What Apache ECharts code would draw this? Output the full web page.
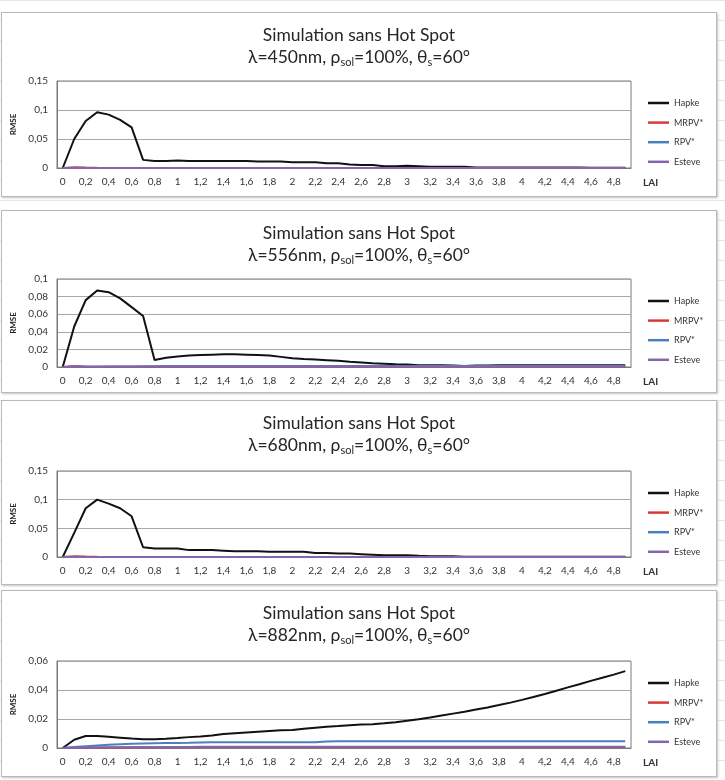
<!DOCTYPE html>
<html>
<head>
<meta charset="utf-8">
<script src="https://cdn.jsdelivr.net/npm/echarts@6/dist/echarts.min.js"></script>
<style>
body{margin:0;background:#fff;width:725px;height:780px;overflow:hidden;
  background-image:linear-gradient(#e6e6e6 1px, transparent 1px);background-size:100% 20px;}
.box{position:absolute;left:1px;width:714px;border:1px solid #b9b9b9;box-shadow:1px 1px 2px #c4c4c4;background:#fff;}
</style>
</head>
<body>
<div id="c450" class="box" style="top:12px;height:183px"></div>
<div id="c556" class="box" style="top:210px;height:181px"></div>
<div id="c680" class="box" style="top:400px;height:183px"></div>
<div id="c882" class="box" style="top:590px;height:185px"></div>
<script>
var lai = ['0','0,1','0,2','0,3','0,4','0,5','0,6','0,7','0,8','0,9',
	'1','1,1','1,2','1,3','1,4','1,5','1,6','1,7','1,8','1,9',
	'2','2,1','2,2','2,3','2,4','2,5','2,6','2,7','2,8','2,9',
	'3','3,1','3,2','3,3','3,4','3,5','3,6','3,7','3,8','3,9',
	'4','4,1','4,2','4,3','4,4','4,5','4,6','4,7','4,8','4,9'];

// 450nm
var hapke450 = [0, 0.050, 0.081, 0.096, 0.092, 0.083, 0.070, 0.014, 0.012, 0.012,
	0.013, 0.012, 0.012, 0.012, 0.012, 0.012, 0.012, 0.011, 0.011, 0.011,
	0.010, 0.010, 0.010, 0.008, 0.008, 0.006, 0.005, 0.005, 0.003, 0.003,
	0.004, 0.003, 0.002, 0.002, 0.002, 0.002, 0.001, 0.001, 0.001, 0.001,
	0.0008, 0.0008, 0.0008, 0.0007, 0.0007, 0.0007, 0.0006, 0.0006, 0.0006, 0.0006];
var mrpv450 = [0, 0.0015, 0.0008, 0.0003, 0.0002, 0.0002, 0.0002, 0.0002, 0.0002, 0.0002,
	0.0002, 0.0002, 0.0002, 0.0002, 0.0002, 0.0002, 0.0002, 0.0002, 0.0002, 0.0002,
	0.0002, 0.0002, 0.0002, 0.0002, 0.0002, 0.0002, 0.0002, 0.0002, 0.0002, 0.0002,
	0.0002, 0.0002, 0.0002, 0.0002, 0.0002, 0.0002, 0.0002, 0.0002, 0.0002, 0.0002,
	0.0002, 0.0002, 0.0002, 0.0002, 0.0002, 0.0002, 0.0002, 0.0002, 0.0002, 0.0002];
var rpv450 = [0, 0.0001, 0.0001, 0.0001, 0.0001, 0.0001, 0.0001, 0.0001, 0.0001, 0.0001,
	0.0001, 0.0001, 0.0001, 0.0001, 0.0001, 0.0001, 0.0001, 0.0001, 0.0001, 0.0001,
	0.0001, 0.0001, 0.0001, 0.0001, 0.0001, 0.0001, 0.0001, 0.0001, 0.0001, 0.0001,
	0.0001, 0.0001, 0.0001, 0.0001, 0.0001, 0.0001, 0.0001, 0.0001, 0.0001, 0.0001,
	0.0001, 0.0001, 0.0001, 0.0001, 0.0001, 0.0001, 0.0001, 0.0001, 0.0001, 0.0001];
var esteve450 = [0, 0, 0, 0, 0, 0, 0, 0, 0, 0,
	0, 0, 0, 0, 0, 0, 0, 0, 0, 0,
	0, 0, 0, 0, 0, 0, 0, 0, 0, 0,
	0, 0, 0, 0, 0, 0, 0, 0, 0, 0,
	0, 0, 0, 0, 0, 0, 0, 0, 0, 0];

// 556nm
var hapke556 = [0, 0.046, 0.076, 0.087, 0.085, 0.078, 0.068, 0.058, 0.008, 0.0105,
	0.012, 0.013, 0.0135, 0.014, 0.0145, 0.0145, 0.014, 0.0135, 0.013, 0.0115,
	0.010, 0.009, 0.0085, 0.0078, 0.007, 0.006, 0.0052, 0.0044, 0.0038, 0.003,
	0.0028, 0.002, 0.002, 0.002, 0.0018, 0.001, 0.0018, 0.0018, 0.002, 0.002,
	0.002, 0.002, 0.002, 0.002, 0.002, 0.002, 0.002, 0.002, 0.002, 0.002];
var mrpv556 = [0, 0.001, 0.0005, 0.0003, 0.0002, 0.0002, 0.0002, 0.0002, 0.0002, 0.0002,
	0.0002, 0.0002, 0.0002, 0.0002, 0.0002, 0.0002, 0.0002, 0.0002, 0.0002, 0.0002,
	0.0002, 0.0002, 0.0002, 0.0002, 0.0002, 0.0002, 0.0002, 0.0002, 0.0002, 0.0002,
	0.0002, 0.0002, 0.0002, 0.0002, 0.0002, 0.0002, 0.0002, 0.0002, 0.0002, 0.0002,
	0.0002, 0.0002, 0.0002, 0.0002, 0.0002, 0.0002, 0.0002, 0.0002, 0.0002, 0.0002];
var rpv556 = [0, 0.0002, 0.0003, 0.0004, 0.0005, 0.0006, 0.0007, 0.0008, 0.0009, 0.001,
	0.001, 0.001, 0.001, 0.001, 0.001, 0.001, 0.001, 0.001, 0.001, 0.001,
	0.001, 0.001, 0.001, 0.001, 0.001, 0.001, 0.001, 0.001, 0.001, 0.001,
	0.001, 0.001, 0.001, 0.001, 0.001, 0.001, 0.001, 0.001, 0.001, 0.001,
	0.001, 0.001, 0.001, 0.001, 0.001, 0.001, 0.001, 0.001, 0.001, 0.001];
var esteve556 = [0, 0.0002, 0.0003, 0.0004, 0.0004, 0.0004, 0.0004, 0.0004, 0.0004, 0.0004,
	0.0004, 0.0004, 0.0004, 0.0004, 0.0004, 0.0004, 0.0004, 0.0004, 0.0004, 0.0004,
	0.0004, 0.0004, 0.0004, 0.0004, 0.0004, 0.0004, 0.0004, 0.0004, 0.0004, 0.0004,
	0.0004, 0.0004, 0.0004, 0.0004, 0.0004, 0.0004, 0.0004, 0.0004, 0.0004, 0.0004,
	0.0004, 0.0004, 0.0004, 0.0004, 0.0004, 0.0004, 0.0004, 0.0004, 0.0004, 0.0004];

// 680nm
var hapke680 = [0, 0.042, 0.085, 0.100, 0.093, 0.085, 0.071, 0.017, 0.015, 0.015,
	0.015, 0.012, 0.012, 0.012, 0.011, 0.010, 0.010, 0.010, 0.009, 0.009,
	0.009, 0.009, 0.007, 0.007, 0.006, 0.006, 0.005, 0.004, 0.003, 0.003,
	0.003, 0.002, 0.0015, 0.0015, 0.0015, 0.0006, 0.0006, 0.0006, 0.0006, 0.0006,
	0.0005, 0.0005, 0.0005, 0.0005, 0.0005, 0.0005, 0.0005, 0.0005, 0.0005, 0.0005];
var mrpv680 = [0, 0.0015, 0.0008, 0.0003, 0.0002, 0.0002, 0.0002, 0.0002, 0.0002, 0.0002,
	0.0002, 0.0002, 0.0002, 0.0002, 0.0002, 0.0002, 0.0002, 0.0002, 0.0002, 0.0002,
	0.0002, 0.0002, 0.0002, 0.0002, 0.0002, 0.0002, 0.0002, 0.0002, 0.0002, 0.0002,
	0.0002, 0.0002, 0.0002, 0.0002, 0.0002, 0.0002, 0.0002, 0.0002, 0.0002, 0.0002,
	0.0002, 0.0002, 0.0002, 0.0002, 0.0002, 0.0002, 0.0002, 0.0002, 0.0002, 0.0002];
var rpv680 = [0, 0.0001, 0.0001, 0.0001, 0.0001, 0.0001, 0.0001, 0.0001, 0.0001, 0.0001,
	0.0001, 0.0001, 0.0001, 0.0001, 0.0001, 0.0001, 0.0001, 0.0001, 0.0001, 0.0001,
	0.0001, 0.0001, 0.0001, 0.0001, 0.0001, 0.0001, 0.0001, 0.0001, 0.0001, 0.0001,
	0.0001, 0.0001, 0.0001, 0.0001, 0.0001, 0.0001, 0.0001, 0.0001, 0.0001, 0.0001,
	0.0001, 0.0001, 0.0001, 0.0001, 0.0001, 0.0001, 0.0001, 0.0001, 0.0001, 0.0001];
var esteve680 = [0, 0, 0, 0, 0, 0, 0, 0, 0, 0,
	0, 0, 0, 0, 0, 0, 0, 0, 0, 0,
	0, 0, 0, 0, 0, 0, 0, 0, 0, 0,
	0, 0, 0, 0, 0, 0, 0, 0, 0, 0,
	0, 0, 0, 0, 0, 0, 0, 0, 0, 0];

// 882nm
var hapke882 = [0, 0.0057, 0.0083, 0.0082, 0.0077, 0.0071, 0.0065, 0.0060, 0.0060, 0.0064,
	0.0069, 0.0075, 0.0080, 0.0087, 0.0096, 0.0102, 0.0107, 0.0112, 0.0117, 0.0122,
	0.0124, 0.0133, 0.0140, 0.0146, 0.0151, 0.0157, 0.0162, 0.0164, 0.0170, 0.0178,
	0.0188, 0.0198, 0.0210, 0.0224, 0.0237, 0.0250, 0.0265, 0.0280, 0.0296, 0.0313,
	0.0332, 0.0352, 0.0372, 0.0395, 0.0418, 0.0440, 0.0463, 0.0484, 0.0506, 0.0530];
var mrpv882 = [0, 0.0002, 0.0003, 0.0003, 0.0004, 0.0004, 0.0005, 0.0005, 0.0005, 0.0006,
	0.0006, 0.0006, 0.0007, 0.0007, 0.0007, 0.0007, 0.0007, 0.0007, 0.0007, 0.0007,
	0.0007, 0.0007, 0.0007, 0.0007, 0.0007, 0.0007, 0.0007, 0.0007, 0.0007, 0.0007,
	0.0007, 0.0007, 0.0007, 0.0007, 0.0007, 0.0007, 0.0007, 0.0007, 0.0007, 0.0007,
	0.0007, 0.0007, 0.0007, 0.0007, 0.0007, 0.0007, 0.0007, 0.0007, 0.0007, 0.0007];
var rpv882 = [0, 0.0007, 0.0012, 0.0017, 0.0022, 0.0026, 0.0029, 0.0031, 0.0033, 0.0034,
	0.0035, 0.0036, 0.0038, 0.0040, 0.0040, 0.0040, 0.0040, 0.0040, 0.0040, 0.0040,
	0.0040, 0.0040, 0.0040, 0.0044, 0.0046, 0.0046, 0.0046, 0.0046, 0.0046, 0.0046,
	0.0046, 0.0046, 0.0046, 0.0046, 0.0046, 0.0046, 0.0046, 0.0046, 0.0046, 0.0046,
	0.0046, 0.0046, 0.0046, 0.0046, 0.0046, 0.0046, 0.0046, 0.0046, 0.0046, 0.0046];
var esteve882 = [0, 0.0002, 0.0003, 0.0004, 0.0005, 0.0005, 0.0006, 0.0006, 0.0006, 0.0007,
	0.0007, 0.0007, 0.0008, 0.0008, 0.0008, 0.0008, 0.0008, 0.0008, 0.0008, 0.0008,
	0.0008, 0.0008, 0.0008, 0.0008, 0.0008, 0.0008, 0.0008, 0.0008, 0.0008, 0.0008,
	0.0008, 0.0008, 0.0008, 0.0008, 0.0008, 0.0008, 0.0008, 0.0008, 0.0008, 0.0008,
	0.0008, 0.0008, 0.0008, 0.0008, 0.0008, 0.0008, 0.0008, 0.0008, 0.0008, 0.0008];

var names = ['Hapke', 'MRPV*', 'RPV*', 'Esteve'];
var colors = ['#111111', '#d83a3a', '#4a7fc0', '#8466ad'];

function fmt(v) {
	return String(+v.toFixed(3)).replace('.', ',');
}

function makeOption(wl, ymax, step, gridTop, gridHeight, data) {
	var series = [];
	for (var i = 0; i < names.length; i++) {
		series.push({
			name: names[i],
			type: 'line',
			color: colors[i],
			symbol: 'none',
			lineStyle: {width: 2},
			data: data[i]
		});
	}
	return {
		animation: false,
		textStyle: {fontFamily: 'Lato'},
		title: [
			{
				text: 'Simulation sans Hot Spot',
				left: 'center',
				top: 12,
				padding: 0,
				textStyle: {fontFamily: 'Lato', fontSize: 17.5, fontWeight: 'normal', color: '#262626', lineHeight: 20}
			},
			{
				text: '{a|λ=' + wl + 'nm, ρ}{s|sol}{a|=100%, θ}{s|s}{a|=60°}',
				left: 'center',
				top: 33,
				padding: 0,
				textStyle: {
					fontWeight: 'normal',
					rich: {
						a: {fontFamily: 'Lato', fontSize: 17.5, fontWeight: 'normal', color: '#262626', lineHeight: 22},
						s: {fontFamily: 'Lato', fontSize: 11, fontWeight: 'normal', color: '#262626', lineHeight: 12, verticalAlign: 'bottom'}
					}
				}
			}
		],
		legend: {
			orient: 'vertical',
			left: 646,
			top: gridTop + 16,
			padding: 0,
			icon: 'rect',
			itemWidth: 21,
			itemHeight: 2.5,
			itemGap: 7.6,
			textStyle: {fontFamily: 'Lato', fontSize: 9, color: '#333', lineHeight: 12},
			data: names
		},
		grid: {
			left: 55,
			top: gridTop,
			width: 574,
			height: gridHeight,
			outerBoundsMode: 'none',
			show: true,
			borderColor: '#7a7a7a',
			borderWidth: 1
		},
		xAxis: {
			type: 'category',
			boundaryGap: true,
			data: lai,
			axisTick: {show: false},
			axisLine: {lineStyle: {color: '#7a7a7a'}},
			axisLabel: {interval: 1, fontSize: 10, color: '#333', margin: 9},
			name: 'LAI',
			nameLocation: 'end',
			nameGap: 12,
			nameTextStyle: {fontWeight: 'bold', fontSize: 10, color: '#333', verticalAlign: 'top', lineHeight: 30}
		},
		yAxis: {
			type: 'value',
			min: 0,
			max: ymax,
			interval: step,
			axisLine: {show: true, lineStyle: {color: '#7a7a7a'}},
			axisTick: {show: false},
			splitLine: {lineStyle: {color: '#a8a8a8'}},
			axisLabel: {fontSize: 10, color: '#333', margin: 9, formatter: fmt},
			name: 'RMSE',
			nameLocation: 'middle',
			nameGap: 27,
			nameTextStyle: {fontWeight: 'bold', fontSize: 8, color: '#222'}
		},
		series: series
	};
}

var chart450 = echarts.init(document.getElementById('c450'));
var chart556 = echarts.init(document.getElementById('c556'));
var chart680 = echarts.init(document.getElementById('c680'));
var chart882 = echarts.init(document.getElementById('c882'));

chart450.setOption(makeOption('450', 0.15, 0.05, 68, 87, [hapke450, mrpv450, rpv450, esteve450]));
chart556.setOption(makeOption('556', 0.1, 0.02, 68, 88, [hapke556, mrpv556, rpv556, esteve556]));
chart680.setOption(makeOption('680', 0.15, 0.05, 70, 86, [hapke680, mrpv680, rpv680, esteve680]));
chart882.setOption(makeOption('882', 0.06, 0.02, 70, 87, [hapke882, mrpv882, rpv882, esteve882]));
</script>
</body>
</html>
